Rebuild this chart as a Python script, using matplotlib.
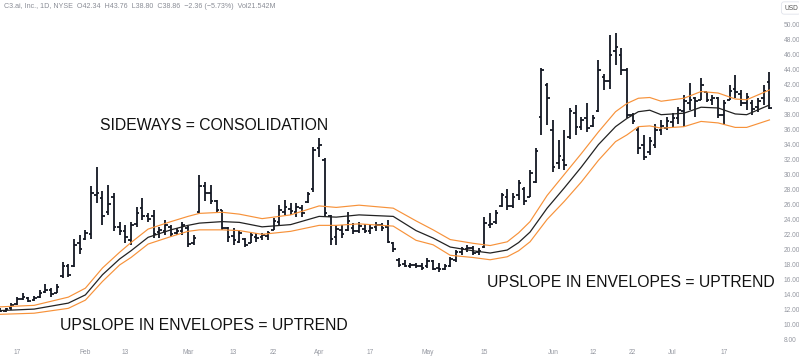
import numpy as np
import matplotlib.pyplot as plt

# daily bars, index 0 = Jan 17
start_idx = -3
opens = [11.9, 11.8, 12.1, 12.7, 13.4, 13.5, 13.2, 13.6, 14.3, 14.6, 14.2, 16.4, 17.8, 17.8, 20.8, 21.4,
         22.0, 27.2, 26.8, 25.0, 27.0, 23.0, 22.5, 21.2, 23.4, 25.5, 24.4, 24.5, 22.3, 22.5, 23.0, 22.2,
         22.5, 22.8, 20.8, 25.0, 28.4, 27.5, 26.4, 25.2, 22.8, 21.8, 21.0, 21.4, 20.8, 21.6, 21.6, 21.8,
         22.6, 23.6, 25.0, 25.4, 25.0, 25.5, 26.3, 28.0, 33.5, 32.0, 24.5, 21.6, 22.6, 22.6, 22.9, 22.5,
         22.7, 22.5, 23.0, 23.3, 23.0, 20.8, 18.6, 18.0, 17.8, 17.9, 17.7, 17.8, 18.4, 17.5, 17.4, 17.8,
         18.6, 19.6, 20.0, 20.2, 19.6, 20.3, 23.2, 23.6, 25.8, 27.0, 25.8, 27.2, 28.0, 27.0, 29.0, 37.7,
         42.0, 36.0, 31.5, 32.0, 35.0, 38.2, 36.4, 37.5, 36.5, 38.5, 43.0, 42.5, 46.5, 46.0, 44.0, 38.0,
         36.0, 34.0, 33.0, 34.0, 36.0, 36.2, 37.0, 37.5, 38.5, 39.5, 40.2, 40.0, 41.0, 40.0, 40.2, 38.0,
         40.0, 41.5, 40.8, 39.5, 39.5, 39.0, 40.2, 42.34]
highs = [12.1, 12.2, 12.8, 13.6, 14.2, 13.6, 13.8, 14.5, 15.4, 14.8, 15.4, 18.3, 18.0, 21.4, 21.9, 22.6,
         28.5, 31.0, 27.8, 28.6, 27.5, 23.6, 23.2, 23.6, 25.7, 26.9, 24.8, 25.3, 23.0, 23.9, 23.2, 22.9,
         23.6, 23.1, 21.9, 30.0, 29.0, 28.6, 26.6, 25.3, 23.0, 22.8, 22.6, 21.5, 22.3, 22.2, 22.2, 22.5,
         24.2, 25.9, 26.6, 26.2, 26.2, 25.9, 27.7, 33.7, 34.9, 32.2, 24.6, 23.2, 23.2, 25.0, 23.5, 23.6,
         23.4, 23.3, 23.7, 23.5, 23.9, 21.0, 18.8, 18.6, 18.2, 18.2, 18.2, 18.8, 18.6, 18.2, 18.0, 19.0,
         19.9, 20.3, 20.6, 20.4, 20.2, 24.3, 24.9, 25.3, 27.5, 28.0, 27.5, 29.3, 28.3, 30.6, 33.5, 44.2,
         42.2, 37.3, 34.6, 36.0, 38.9, 39.3, 37.7, 39.5, 38.0, 45.3, 43.5, 48.7, 48.9, 46.9, 44.2, 38.2,
         36.4, 35.3, 35.0, 36.8, 37.3, 37.7, 38.2, 39.0, 40.6, 42.2, 40.4, 42.9, 41.1, 40.6, 40.4, 40.0,
         42.0, 43.3, 41.3, 40.9, 40.0, 40.2, 42.0, 43.76]
lows = [11.6, 11.6, 11.9, 12.6, 13.2, 12.9, 13.1, 13.5, 14.2, 13.6, 14.2, 16.2, 16.3, 17.6, 19.4, 21.2,
        21.4, 26.2, 23.2, 24.6, 22.5, 21.9, 20.8, 20.6, 23.0, 23.9, 23.6, 21.5, 21.5, 21.9, 21.6, 21.9,
        21.9, 20.3, 20.6, 24.9, 26.4, 26.0, 24.9, 22.6, 21.0, 20.6, 20.8, 20.3, 20.8, 21.0, 21.2, 21.2,
        22.6, 23.2, 24.6, 24.6, 24.3, 24.3, 26.2, 27.7, 32.3, 24.3, 20.6, 20.6, 21.5, 22.4, 22.0, 22.2,
        22.2, 22.0, 22.5, 22.5, 20.8, 19.6, 17.6, 17.6, 17.5, 17.5, 17.2, 17.5, 17.2, 17.0, 17.2, 17.6,
        18.3, 19.3, 19.6, 19.3, 19.3, 20.2, 22.8, 23.4, 25.7, 25.3, 25.5, 26.6, 25.9, 27.0, 28.8, 35.3,
        36.6, 30.4, 30.8, 30.6, 34.8, 35.3, 36.0, 35.7, 36.4, 38.3, 41.3, 41.5, 44.7, 43.3, 37.5, 36.8,
        32.8, 31.9, 32.6, 33.5, 35.3, 36.0, 36.4, 36.8, 36.4, 38.6, 37.7, 40.0, 39.7, 39.3, 37.5, 36.6,
        40.0, 40.2, 39.1, 38.6, 38.0, 38.4, 39.3, 38.80]
closes = [11.8, 12.0, 12.6, 13.3, 13.6, 13.1, 13.5, 14.2, 14.6, 14.0, 15.0, 17.8, 16.5, 20.6, 20.0, 22.2,
          27.5, 27.5, 24.5, 26.0, 23.0, 22.5, 21.6, 23.3, 24.8, 24.4, 24.0, 22.0, 22.6, 23.3, 22.0, 22.4,
          23.2, 20.7, 21.5, 28.5, 27.5, 26.5, 25.3, 22.9, 21.6, 21.2, 22.2, 20.6, 21.9, 21.5, 21.9, 22.2,
          23.8, 25.2, 25.6, 25.1, 25.6, 24.8, 27.4, 33.3, 34.0, 24.8, 21.4, 22.7, 22.0, 23.8, 22.4, 23.1,
          22.5, 22.9, 23.3, 22.8, 21.0, 20.1, 17.9, 17.8, 17.9, 17.7, 17.5, 18.5, 17.4, 17.3, 17.8, 18.7,
          19.6, 20.1, 20.2, 19.5, 19.8, 23.5, 23.4, 24.8, 27.2, 25.8, 27.0, 28.8, 26.4, 30.2, 33.2, 44.0,
          40.2, 31.0, 32.5, 31.3, 38.5, 36.4, 37.3, 36.2, 37.6, 44.0, 42.5, 46.0, 47.0, 44.0, 38.0, 37.2,
          33.6, 32.4, 34.5, 36.0, 36.5, 37.2, 37.6, 38.6, 39.8, 40.0, 39.8, 42.0, 40.0, 40.3, 38.0, 39.5,
          41.2, 41.0, 39.5, 40.4, 38.8, 39.8, 41.2, 38.86]

# envelope (bar index, middle, upper, lower)
env_idx = [-3, 3, 9, 12, 15, 18, 20, 23, 27, 30, 32, 36, 39, 43, 48, 53, 56, 60, 66, 70, 73, 76, 80, 83,
           86, 88, 90, 93, 96, 99, 102, 105, 107, 109, 111, 113, 117, 120, 123, 126, 128, 132]
env_mid = [11.8, 12.0, 12.8, 13.9, 16.6, 18.7, 19.8, 21.6, 22.6, 23.2, 23.5, 23.7, 23.6, 23.0, 23.3, 24.4,
           24.3, 24.6, 24.4, 22.5, 21.5, 20.3, 19.8, 19.5, 19.9, 20.9, 22.3, 25.5, 28.2, 31.0, 34.0, 36.4,
           37.5, 38.4, 38.6, 38.0, 38.2, 39.0, 38.9, 38.1, 38.0, 39.3]
env_up = [12.3, 12.5, 13.6, 14.8, 17.5, 19.6, 20.9, 22.7, 23.7, 24.4, 24.8, 24.95, 24.7, 24.1, 24.6, 25.8,
          25.6, 25.9, 25.5, 23.8, 22.6, 21.3, 20.8, 20.5, 21.0, 22.2, 23.7, 27.2, 30.0, 32.8, 35.7, 38.4,
          39.5, 40.2, 40.3, 39.8, 40.2, 41.1, 40.9, 40.1, 40.0, 41.3]
env_lo = [11.3, 11.45, 12.1, 13.2, 15.7, 17.9, 18.9, 20.7, 21.7, 22.4, 22.6, 22.6, 22.5, 22.0, 22.4, 23.2,
          23.2, 23.4, 23.1, 21.2, 20.6, 19.2, 18.9, 18.6, 19.0, 19.8, 21.0, 24.0, 26.4, 29.0, 31.9, 34.4,
          35.3, 36.4, 36.5, 36.2, 36.4, 37.1, 36.9, 36.3, 36.3, 37.3]

tick_pos = [0, 12, 19, 30, 38, 45, 53, 62, 72, 82, 94, 101, 108, 115, 124]
tick_lbl = ["17", "Feb", "13", "Mar", "13", "22", "Apr", "17", "May", "15", "Jun", "12", "22", "Jul", "17"]
price_ticks = np.arange(8, 51, 2)

x = np.arange(start_idx, start_idx + len(opens))

fig = plt.figure(figsize=(7.99, 3.57), dpi=100)
ax = fig.add_axes([0, 15 / 357, 778 / 799, 342 / 357])

bar_col = "#131722"
ax.vlines(x, lows, highs, color=bar_col, lw=1.3)
ax.hlines(opens, x - 0.45, x, color=bar_col, lw=1.3)
ax.hlines(closes, x, x + 0.45, color=bar_col, lw=1.3)

orange = "#F7923A"
ax.plot(env_idx, env_up, color=orange, lw=0.85)
ax.plot(env_idx, env_lo, color=orange, lw=0.85)
ax.plot(env_idx, env_mid, color="#222222", lw=0.9)

ax.set_xlim(-2.98, 133.5)
ax.set_ylim(7.6, 53.34)
for s in ax.spines.values():
    s.set_visible(False)

ax.set_xticks(tick_pos)
ax.set_xticklabels(tick_lbl)
ax.yaxis.tick_right()
ax.set_yticks(price_ticks)
ax.set_yticklabels([f"{v:.2f}" for v in price_ticks])
ax.tick_params(axis="both", length=0, labelsize=4.8, labelcolor="#9598a1")
ax.tick_params(axis="y", pad=4)
ax.tick_params(axis="x", pad=5)
for lab in ax.get_xticklabels() + ax.get_yticklabels():
    lab.set_fontfamily("Liberation Sans")

font = "Liberation Sans"
ax.text(14.6, 36.5, "SIDEWAYS = CONSOLIDATION", fontsize=11.3, family=font, color="#111111", va="center")
ax.text(7.5, 9.75, "UPSLOPE IN ENVELOPES = UPTREND", fontsize=11.3, family=font, color="#111111", va="center")
ax.text(82.5, 15.5, "UPSLOPE IN ENVELOPES = UPTREND", fontsize=11.3, family=font, color="#111111", va="center")

fig.text(4 / 799, 1 - 7 / 357, "C3.ai, Inc., 1D, NYSE  O42.34  H43.76  L38.80  C38.86  \u22122.36 (\u22125.73%)  Vol21.542M",
         fontsize=5.1, family=font, color="#8a8d96", va="center")
fig.text(791 / 799, 1 - 8 / 357, "USD", fontsize=4.8, family=font, color="#555555", ha="center", va="center",
         bbox=dict(boxstyle="round,pad=0.4", fc="white", ec="#e0e3eb", lw=0.6))

fig.savefig("out.png", dpi=100)
